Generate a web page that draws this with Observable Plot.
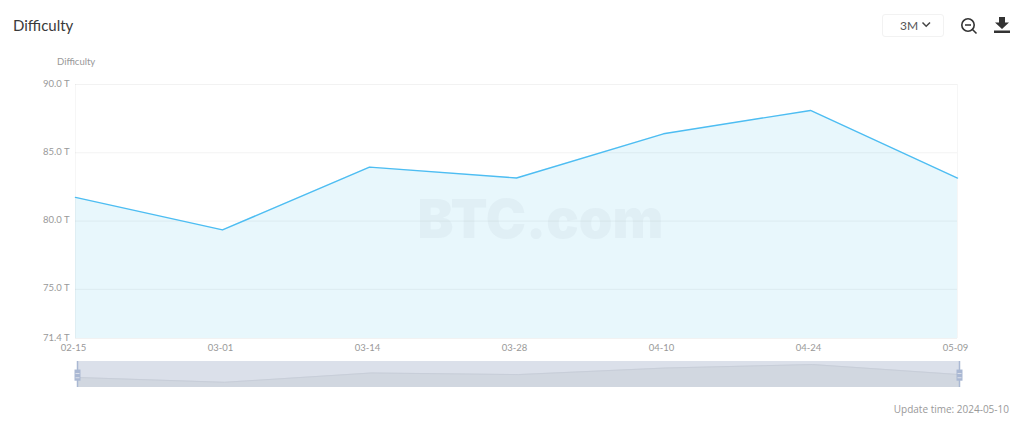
<!DOCTYPE html>
<html><head><meta charset="utf-8">
<script src="https://cdn.jsdelivr.net/npm/d3@7"></script>
<script src="https://cdn.jsdelivr.net/npm/@observablehq/plot@0.6"></script>
<style>
html,body{margin:0;padding:0;background:#fff;overflow:hidden}
#page{position:relative;width:1024px;height:424px;font-family:Lato,"Open Sans",sans-serif}
#page>*{position:absolute}
#main{left:0;top:0}
#slider{left:0;top:0}
svg{background:transparent}
.title{left:13px;top:14px;font-size:15px;color:#3a3a3a;line-height:22px}
.axname{left:57px;top:56px;font-size:9.5px;color:#999;line-height:12px}
.update{right:15px;top:402px;font-size:10px;color:#999;line-height:14px;font-family:"Open Sans",sans-serif}
.range{left:882px;top:14px;width:60px;height:21px;border:1px solid #f2f2f2;border-radius:3px;font-size:12px;color:#555;line-height:21px;text-indent:17px}
</style></head><body>
<div id="page">
<div id="main"></div><div id="slider"></div>
<div class="title">Difficulty</div>
<div class="axname">Difficulty</div>
<div class="range">3M</div>
<svg style="left:921px;top:21px" width="11" height="8" viewBox="0 0 11 8"><path d="M1.5 1.5L5.2 5.2L9 1.5" fill="none" stroke="#444" stroke-width="1.5"/></svg>
<svg style="left:960px;top:17px" width="18" height="18" viewBox="0 0 18 18"><circle cx="8" cy="8" r="6.2" fill="none" stroke="#333" stroke-width="1.6"/><path d="M5 8H11M12.5 12.5L16.5 16.5" stroke="#333" stroke-width="1.6" fill="none"/></svg>
<svg style="left:993px;top:16px" width="18" height="18" viewBox="0 0 18 18"><path d="M6 1H12V6.5H16L9 13L2 6.5H6ZM1 14.5H17V17H1Z" fill="#333"/></svg>
<div class="update">Update time: 2024-05-10</div>
</div>
<script>
const dates = ["02-15","03-01","03-14","03-28","04-10","04-24","05-09"];
const difficulty = [81.73,79.35,83.95,83.15,86.39,88.10,83.15];
const yTicks = [71.4,75,80,85,90];
const yMin = 71.4, yMax = 90;
const rows = dates.map((d,i)=>({date:d,value:difficulty[i]}));
const ends = [dates[0],dates[dates.length-1]];
const fmt = v => v.toFixed(1)+" T";

const main = Plot.plot({
  width:1024,height:424,marginLeft:75,marginRight:67,marginTop:84,marginBottom:86,
  style:{fontFamily:"Lato, 'Open Sans', sans-serif",background:"transparent"},
  x:{type:"point",domain:dates,padding:0},
  y:{domain:[yMin,yMax]},
  marks:[
    Plot.areaY(rows,{x:"date",y1:()=>yMin,y2:"value",fill:"#e8f7fc"}),
    Plot.ruleY(yTicks,{stroke:"#000",strokeOpacity:.05}),
    Plot.ruleX(ends,{stroke:"#000",strokeOpacity:.035}),
    Plot.text(["BTC.com"],{frameAnchor:"middle",dx:24,dy:9,fontSize:54,fontWeight:900,fontFamily:"Inter",fill:"#8a9aa5",fillOpacity:.08}),
    Plot.line(rows,{x:"date",y:"value",stroke:"#4dbdf2",strokeWidth:1.4}),
    Plot.axisY({ticks:yTicks,tickFormat:fmt,tickSize:0,tickPadding:6,dy:-1,fontSize:9.5,color:"#999",label:null}),
    Plot.axisX({tickSize:0,tickPadding:6,dx:-2,fontSize:9.5,color:"#999",label:null})
  ]
});
document.getElementById("main").append(main);

const sliderMin = 76.8, sliderMax = 89.6;
const stripe = {draw(ctx){ctx.moveTo(-2,0);ctx.lineTo(2,0);}};
const stripes = ends.flatMap(d=>[81.6,83.7].map(v=>({date:d,v})));
const slider = Plot.plot({
  width:1024,height:424,marginLeft:76.5,marginRight:64.5,marginTop:361,marginBottom:37,
  style:{background:"transparent"},
  x:{type:"point",domain:dates,padding:0,axis:null},
  y:{domain:[sliderMin,sliderMax],axis:null},
  marks:[
    Plot.areaY(rows,{x:"date",y1:()=>sliderMin,y2:()=>sliderMax,fill:"#dbe0ea"}),
    Plot.areaY(rows,{x:"date",y1:()=>sliderMin,y2:"value",fill:"#d1d7e0"}),
    Plot.line(rows,{x:"date",y:"value",stroke:"#c8ced9",strokeWidth:1}),
    Plot.ruleX(ends,{stroke:"#aab8d3",strokeWidth:1.5}),
    Plot.ruleX(ends,{y1:()=>79.9,y2:()=>85.4,stroke:"#aab8d3",strokeWidth:6}),
    Plot.dot(stripes,{x:"date",y:"v",symbol:stripe,stroke:"#dbe0ea",strokeWidth:1,r:3})
  ]
});
document.getElementById("slider").append(slider);
</script>
</body></html>
